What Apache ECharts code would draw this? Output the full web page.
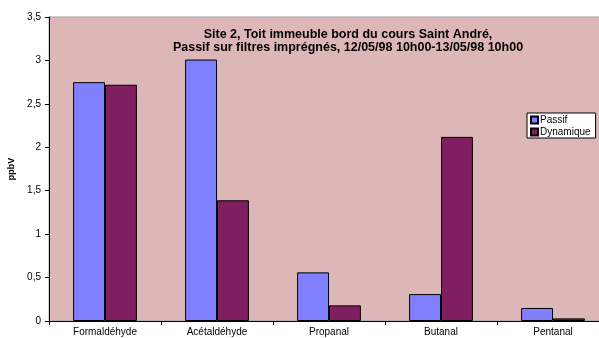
<!DOCTYPE html>
<html><head><meta charset="utf-8">
<script src="https://cdn.jsdelivr.net/npm/echarts@6/dist/echarts.min.js"></script>
<style>html,body{margin:0;padding:0;background:#fff}#c{width:599px;height:338px}</style>
</head><body><div id="c"></div>
<script>
const categories = ['Formaldéhyde', 'Acétaldéhyde', 'Propanal', 'Butanal', 'Pentanal'];
const passif = [2.75, 3.01, 0.56, 0.31, 0.15];
const dynamique = [2.72, 1.39, 0.18, 2.12, 0.03];
const titleLines = ['Site 2, Toit immeuble bord du cours Saint André,', 'Passif sur filtres imprégnés, 12/05/98 10h00-13/05/98 10h00'];
const yName = 'ppbV';

const font = 'Arial, "Liberation Sans", sans-serif';
const chart = echarts.init(document.getElementById('c'), null, {renderer: 'canvas'});
chart.setOption({
  animation: false,
  backgroundColor: '#ffffff',
  title: {
    text: titleLines.join('\n'),
    left: 343, top: 23, textAlign: 'center',
    textStyle: {fontFamily: font, fontSize: 12.5, fontWeight: 'bold', color: '#000', lineHeight: 13}
  },
  legend: {
    orient: 'vertical', left: 527, top: 113,
    itemWidth: 7, itemHeight: 7, itemGap: 2, padding: [2, 5, 1, 3],
    backgroundColor: '#fff', borderColor: '#000', borderWidth: 1,
    icon: 'rect',
    textStyle: {fontFamily: font, fontSize: 10, color: '#000', padding: [0, 0, 0, -3]},
    data: ['Passif', 'Dynamique']
  },
  grid: {left: 49, width: 560, top: 17, bottom: 17, outerBoundsMode: 'none', containLabel: false,
    show: true, backgroundColor: '#ddb6b7', borderColor: '#a0a0a0', borderWidth: 1},
  xAxis: {
    type: 'category', data: categories,
    axisLine: {lineStyle: {color: '#000', width: 1}},
    axisTick: {show: true, length: 4, lineStyle: {color: '#000'}},
    axisLabel: {fontFamily: font, fontSize: 10, color: '#000', margin: 6}
  },
  yAxis: {
    type: 'value', min: 0, max: 3.5, interval: 0.5,
    name: yName, nameLocation: 'middle', nameGap: 30, nameRotate: 90,
    nameTextStyle: {fontFamily: font, fontSize: 9, fontWeight: 'bold', color: '#000'},
    axisLine: {show: true, lineStyle: {color: '#000'}},
    axisTick: {show: true, length: 4, lineStyle: {color: '#000'}},
    splitLine: {show: false},
    axisLabel: {fontFamily: font, fontSize: 10, color: '#000', margin: 8,
      formatter: v => String(v).replace('.', ',')}
  },
  series: [
    {name: 'Passif', type: 'bar', data: passif, barGap: '0%', barCategoryGap: '43%',
     itemStyle: {color: '#8080ff', borderColor: '#000', borderWidth: 1}},
    {name: 'Dynamique', type: 'bar', data: dynamique,
     itemStyle: {color: '#801f5f', borderColor: '#000', borderWidth: 1}}
  ]
});
</script></body></html>
